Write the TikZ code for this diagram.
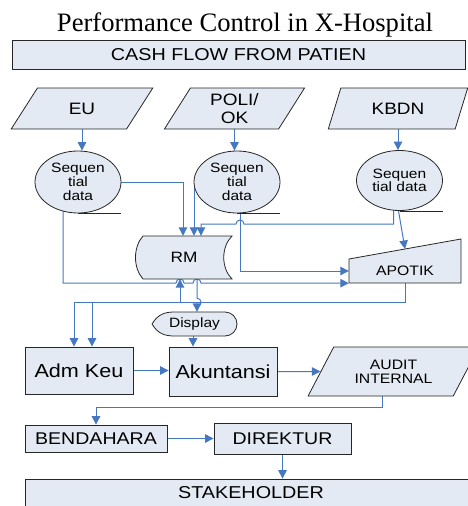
\documentclass[tikz,border=0pt]{standalone}
\usepackage{fontspec}
\setmainfont{Liberation Serif}
\newfontfamily\flowfont[FakeStretch=1.15]{Liberation Sans}
\usetikzlibrary{shapes.geometric,arrows.meta,backgrounds}
\definecolor{boxfill}{HTML}{E4EAF4}
\definecolor{flowblue}{HTML}{4678C2}
\begin{document}
\begin{tikzpicture}[x=1pt,y=-1pt,
		box/.style={draw=black!85,fill=boxfill,line width=0.8pt,inner sep=0pt,align=center},
		para/.style={box,trapezium,trapezium stretches=true,minimum height=41},
		seq/.style={box,ellipse,minimum width=86,minimum height=62,font=\flowfont\fontsize{13.5}{14}\selectfont},
		tail/.style={black!85,line width=0.8pt},
		flow/.style={flowblue,line width=1pt,-{Triangle[width=8.5pt,length=8.5pt]}},
		link/.style={flowblue,line width=1pt}]
		\useasboundingbox (0,0) rectangle (467,506);
		\node[font=\fontsize{26.6}{30}\selectfont,anchor=base] (title) at (245,31) {Performance Control in X-Hospital};
		\node[box,minimum width=453,minimum height=29,font=\flowfont\fontsize{17.2}{20}\selectfont] (cash) at (238.5,54.5) {CASH FLOW FROM PATIEN};
		\node[para,trapezium left angle=56,trapezium right angle=124,minimum width=142,font=\flowfont\fontsize{16.5}{18.5}\selectfont] (eu) at (82,108.5) {EU};
		\node[para,trapezium left angle=65,trapezium right angle=115,minimum width=141,font=\flowfont\fontsize{16.5}{18.5}\selectfont] (poli) at (234.5,108.5) {POLI/\\OK};
		\node[para,trapezium left angle=63,trapezium right angle=117,minimum width=140,font=\flowfont\fontsize{16.5}{18.5}\selectfont] (kbdn) at (398,108.5) {KBDN};
		\node[seq] (s1) at (78,182) {Sequen\\tial\\data};
		\node[seq] (s2) at (237,182) {Sequen\\tial\\data};
		\node[seq,minimum height=60,font=\flowfont\fontsize{13.5}{13}\selectfont] (s3) at (399.5,180.5) {Sequen\\tial data};
		\draw[tail] (s1.south) -- ++(43,0);
		\draw[tail] (s2.south) -- ++(43,0);
		\draw[tail] (s3.south) -- ++(43.5,0);
		\draw[box] (143,236) -- (232,236) .. controls (221,247) and (221,268) .. (232,279) -- (143,279) .. controls (133,268) and (133,247) .. (143,236) -- cycle;
		\node[inner sep=0pt,minimum width=96,minimum height=43,font=\flowfont\fontsize{15}{17}\selectfont] (rm) at (184,257.5) {RM};
		\draw[box] (349,259) -- (461,239) -- (461,283) -- (349,283) -- cycle;
		\node[inner sep=0pt,minimum width=112,minimum height=24,font=\flowfont\fontsize{13.7}{16}\selectfont] (apotik) at (405,271) {APOTIK};
		\coordinate (apotiktop) at (405,249);
		\draw[box] (152,324) .. controls (158,314) and (165,312) .. (175,312) -- (225,312) arc[start angle=-90,end angle=90,radius=12] -- (175,336) .. controls (165,336) and (158,334) .. (152,324) -- cycle;
		\node[inner sep=0pt,minimum width=85,minimum height=24,font=\flowfont\fontsize{13.5}{16}\selectfont] (disp) at (194.5,324) {Display};
		\node[box,minimum width=108,minimum height=47,font=\flowfont\fontsize{18.8}{21}\selectfont] (adm) at (79,370.5) {Adm Keu};
		\node[box,minimum width=108,minimum height=49,font=\flowfont\fontsize{18.8}{21}\selectfont] (akun) at (223,371.5) {Akuntansi};
		\node[para,trapezium left angle=54.5,trapezium right angle=125.5,minimum width=171,minimum height=49,font=\flowfont\fontsize{13.7}{14}\selectfont] (aud) at (393.5,371.5) {AUDIT\\INTERNAL};
		\node[box,minimum width=142,minimum height=27,font=\flowfont\fontsize{17}{20}\selectfont] (bend) at (96,438.5) {BENDAHARA};
		\node[box,minimum width=137,minimum height=31,font=\flowfont\fontsize{17}{20}\selectfont] (dir) at (282.5,438.5) {DIREKTUR};
		\node[box,minimum width=452,minimum height=28,font=\flowfont\fontsize{17.2}{20}\selectfont] (stake) at (251,493) {STAKEHOLDER};
		\begin{scope}[on background layer]
			\draw[flow] (eu.south) -- (eu.south |- s1.north);
			\draw[flow] (poli.south) -- (poli.south |- s2.north);
			\draw[flow] (kbdn.south) -- (kbdn.south |- s3.north);
			\draw[flow] (s1.east) -| ([xshift=-1pt]rm.north);
			\draw[flow] ([xshift=10pt]rm.north) ++(0,-50) -- ([xshift=10pt]rm.north);
			\draw[flow] ([xshift=-6pt]s3.center) |- (244,224) arc[start angle=0,end angle=-180,radius=4] -| ([xshift=17pt]rm.north);
			\draw[flow] ([xshift=-1pt]s3.south) -- (apotiktop);
			\draw[flow] ([xshift=3pt]s2.center) |- (apotik.west);
			\draw[flow] ([xshift=-15pt]s1.center) |- (176,283) arc[start angle=180,end angle=360,radius=4] -- (193,283) arc[start angle=180,end angle=360,radius=4] -- (apotik.south west);
			\draw[flow] (apotik.south) -- ++(0,19) -| ([xshift=-5pt]adm.north);
			\draw[flow] ([xshift=13pt]adm.north) ++(0,-45) -- ([xshift=13pt]adm.north);
			\draw[flow] ([xshift=-4pt]rm.south) ++(0,23) -- ([xshift=-4pt]rm.south);
			\draw[flow] ([xshift=13pt]rm.south) -- ++(0,19) arc[start angle=-90,end angle=90,radius=4] -- ([xshift=2.5pt]disp.north);
			\draw[flow] ([xshift=-1.5pt]disp.south) -- ([xshift=-30pt]akun.north);
			\draw[flow] (adm.east) -- (adm.east -| akun.west);
			\draw[flow] (akun.east) -- (aud.west);
			\draw[flow] ([xshift=-11.5pt]aud.south) -- ++(0,11) -| (bend.north);
			\draw[flow] (bend.east) -- (dir.west);
			\draw[flow] (dir.south) -- (dir.south |- stake.north);
		\end{scope}
\end{tikzpicture}
\end{document}
